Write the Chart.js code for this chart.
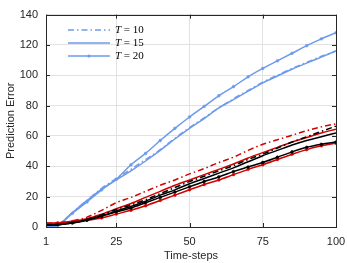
<!DOCTYPE html>
<html>
<head>
<meta charset="utf-8">
<script src="https://cdn.jsdelivr.net/npm/chart.js@4.4.0/dist/chart.umd.min.js"></script>
<style>
html, body { margin: 0; padding: 0; background: #fff; }
</style>
</head>
<body>
<canvas id="grafico" width="347" height="263"></canvas>
<script>
// Datos
var pasos = [1, 5, 10, 15, 20, 25, 30, 35, 40, 45, 50, 55, 60, 65, 70, 75, 80, 85, 90, 95, 100];
var ticksX = [1, 25, 50, 75, 100];
var etiquetasLeyenda = ['T = 10', 'T = 15', 'T = 20'];

var azulT10 = [0.5, 1.5, 9.5, 17.5, 25.5, 32, 38, 44.5, 51, 58.5, 65.5, 72, 78.5, 84.5, 90, 95.5, 100, 104.5, 108.5, 112.5, 116];
var azulT15 = [0.5, 1.5, 9.5, 17.5, 25, 31, 37, 43.5, 50.5, 58, 65, 71.5, 78.5, 84, 89.5, 95, 99.5, 104, 108, 112, 116];
var azulT20 = [0, 1, 9, 16.5, 24.5, 31.5, 41, 48.5, 57, 65, 72.5, 79.5, 86.5, 92.5, 99, 104.5, 109.5, 114.5, 119.5, 124, 128];

var rojoT10 = [2.5, 2.7, 4, 6.5, 11, 16, 19.5, 23.5, 27.5, 31, 35, 38.5, 42.5, 46, 50.5, 54.5, 57.5, 60.5, 63.5, 66, 68];
var rojoT15 = [2.5, 2.7, 3.8, 5.5, 8.5, 12, 15.5, 19.5, 23.5, 27.5, 31, 34.5, 38, 41.5, 45.5, 49, 52.5, 56, 59, 62, 64.5];
var rojoT20 = [2.5, 2.7, 3.5, 4.5, 6, 8.5, 11, 14, 17.5, 21, 24.5, 28, 31, 34.5, 38, 41, 44.5, 48, 51, 53.5, 55.2];

var negroT10 = [1.3, 1.5, 2.8, 5, 8, 11.5, 14.5, 18, 22, 26, 30, 33.5, 37, 40.5, 44.5, 48, 52, 56, 59.5, 63, 66.5];
var negroT15 = [1.3, 1.5, 2.8, 4.8, 7.5, 10.5, 13.5, 17, 21, 24.5, 28.5, 32, 35.5, 39, 43, 47, 50.5, 54, 57, 59.5, 62];
var negroT20 = [1.3, 1.5, 2.6, 4.5, 7, 10, 12.5, 16, 19.5, 23, 26.5, 30, 33, 36.5, 39.5, 42.5, 46, 49.5, 52.5, 54.5, 56];

var AZUL = '#6d9aec';
var ROJO = '#d40000';
var NEGRO = '#000000';
var PUNTO_RAYA = [6, 3, 1.5, 3];

function puntos(valores) {
    return pasos.map(function (p, i) { return { x: p, y: valores[i] }; });
}

function serie(valores, color, tipo, leyenda) {
    return {
        label: leyenda || '',
        enLeyenda: !!leyenda,
        data: puntos(valores),
        borderColor: color,
        backgroundColor: color,
        borderWidth: 1.5,
        borderDash: tipo === 'pr' ? PUNTO_RAYA : [],
        pointRadius: tipo === 'm' ? 1.4 : 0,
        pointBorderWidth: 0.5,
        pointStyle: 'circle',
        cubicInterpolationMode: 'monotone',
        fill: false
    };
}

var datos = {
    datasets: [
        serie(negroT15, NEGRO, 's'),
        serie(negroT20, NEGRO, 'm'),
        serie(negroT10, NEGRO, 'pr'),
        serie(rojoT20, ROJO, 'm'),
        serie(rojoT15, ROJO, 's'),
        serie(rojoT10, ROJO, 'pr'),
        serie(azulT10, AZUL, 'pr', etiquetasLeyenda[0]),
        serie(azulT15, AZUL, 's', etiquetasLeyenda[1]),
        serie(azulT20, AZUL, 'm', etiquetasLeyenda[2])
    ]
};

// Marco y marcas hacia dentro (estilo MATLAB)
var marcoPlugin = {
    id: 'marco',
    afterDraw: function (chart) {
        var c = chart.ctx, a = chart.chartArea;
        var xs = chart.scales.x, ys = chart.scales.y;
        c.save();
        c.strokeStyle = '#262626';
        c.lineWidth = 1;
        c.beginPath();
        xs.ticks.forEach(function (t) {
            var px = Math.round(xs.getPixelForValue(t.value)) + 0.5;
            c.moveTo(px, a.bottom); c.lineTo(px, a.bottom - 4);
            c.moveTo(px, a.top); c.lineTo(px, a.top + 4);
        });
        ys.ticks.forEach(function (t) {
            var py = Math.round(ys.getPixelForValue(t.value)) + 0.5;
            c.moveTo(a.left, py); c.lineTo(a.left + 4, py);
            c.moveTo(a.right, py); c.lineTo(a.right - 4, py);
        });
        c.stroke();
        c.strokeRect(Math.round(a.left) + 0.5, Math.round(a.top) + 0.5,
            Math.round(a.right - a.left), Math.round(a.bottom - a.top));
        c.restore();
    }
};

// Leyenda dentro del área del gráfico
var leyendaPlugin = {
    id: 'leyendaInterna',
    afterDraw: function (chart) {
        var c = chart.ctx;
        var items = chart.data.datasets.filter(function (d) { return d.enLeyenda; });
        var x0 = 68, x1 = 110, y = 30;
        c.save();
        items.forEach(function (d) {
            c.strokeStyle = d.borderColor;
            c.lineWidth = 1.5;
            c.setLineDash(d.borderDash);
            c.beginPath();
            c.moveTo(x0, y); c.lineTo(x1, y);
            c.stroke();
            c.setLineDash([]);
            if (d.pointRadius > 0) {
                c.fillStyle = d.borderColor;
                c.beginPath();
                c.arc((x0 + x1) / 2, y, 1.6, 0, Math.PI * 2);
                c.fill();
            }
            var partes = d.label.split(' ');
            c.fillStyle = '#000';
            c.textBaseline = 'middle';
            c.font = 'italic 11px "Liberation Serif"';
            c.fillText(partes[0], 115, y);
            var w = c.measureText(partes[0]).width;
            c.font = '11px "Liberation Serif"';
            c.fillText(' ' + partes.slice(1).join(' '), 115 + w, y);
            y += 13;
        });
        c.restore();
    }
};

var fuente = { family: '"Liberation Sans", Arial, sans-serif', size: 11 };

var opciones = {
    responsive: false,
    animation: false,
    devicePixelRatio: 1,
    layout: { padding: { left: 0, top: 7, right: 0, bottom: 0 } },
    plugins: {
        legend: { display: false },
        tooltip: { enabled: false }
    },
    scales: {
        x: {
            type: 'linear',
            min: 1,
            max: 100,
            afterBuildTicks: function (s) { s.ticks = ticksX.map(function (v) { return { value: v }; }); },
            afterFit: function (s) { s.height = 36; s.paddingRight = 11; },
            grid: { color: '#e2e2e2', drawTicks: false },
            border: { display: false },
            ticks: { font: fuente, color: '#262626', padding: 8, autoSkip: false, maxRotation: 0 },
            title: { display: true, text: 'Time-steps', font: fuente, color: '#262626', padding: { top: 0, bottom: 0 } }
        },
        y: {
            min: 0,
            max: 140,
            afterFit: function (s) { s.width = 46; },
            grid: { color: '#e2e2e2', drawTicks: false },
            border: { display: false },
            ticks: { font: fuente, color: '#262626', padding: 8, stepSize: 20 },
            title: { display: true, text: 'Prediction Error', font: fuente, color: '#262626', padding: { top: 4, bottom: 0 } }
        }
    }
};

var ctx = document.getElementById('grafico').getContext('2d');
var miGrafico = new Chart(ctx, {
    type: 'line',
    data: datos,
    options: opciones,
    plugins: [marcoPlugin, leyendaPlugin]
});
</script>
</body>
</html>
